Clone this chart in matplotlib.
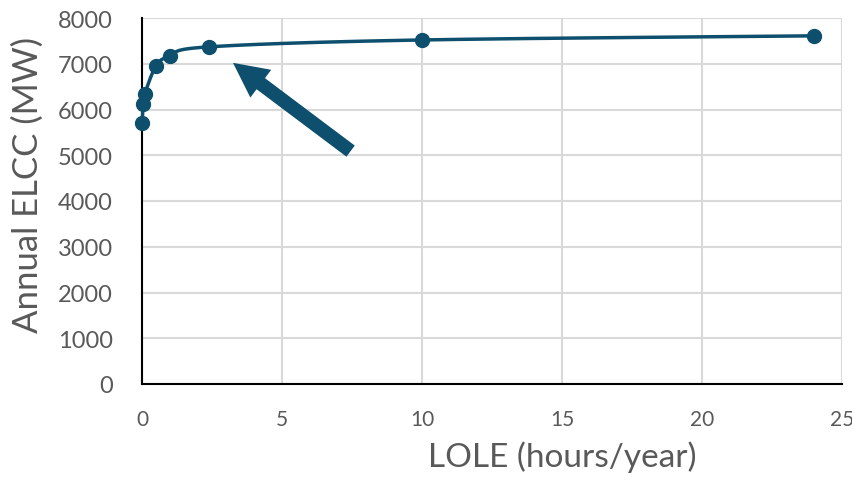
import numpy as np
import matplotlib
matplotlib.use("Agg")
import matplotlib.pyplot as plt

# values
lole = [0.0, 0.05, 0.1, 0.5, 1.0, 2.4, 10.0, 24.0]
elcc = [5700, 6130, 6340, 6950, 7170, 7370, 7520, 7610]

x_ticks = [0, 5, 10, 15, 20, 25]
y_ticks = [0, 1000, 2000, 3000, 4000, 5000, 6000, 7000, 8000]

line_color = "#0E4F6E"
text_color = "#595959"
grid_color = "#D9D9D9"


def smooth(xs, ys, n=30):
    # catmull-rom style curve, like a spreadsheet "smoothed line"
    xs = np.asarray(xs, float)
    ys = np.asarray(ys, float)
    px = np.concatenate([[xs[0]], xs, [xs[-1]]])
    py = np.concatenate([[ys[0]], ys, [ys[-1]]])
    out_x, out_y = [], []
    for i in range(1, len(px) - 2):
        p0, p1, p2, p3 = (np.array([px[j], py[j]]) for j in (i - 1, i, i + 1, i + 2))
        c1 = p1 + (p2 - p0) / 6
        c2 = p2 - (p3 - p1) / 6
        t = np.linspace(0, 1, n)[:, None]
        pts = ((1 - t) ** 3) * p1 + 3 * ((1 - t) ** 2) * t * c1 + 3 * (1 - t) * t ** 2 * c2 + t ** 3 * p2
        out_x.extend(pts[:, 0])
        out_y.extend(pts[:, 1])
    return out_x, out_y


plt.rcParams["font.family"] = ["Lato", "DejaVu Sans"]

fig = plt.figure(figsize=(8.52, 4.81), dpi=100)
ax = fig.add_axes([142 / 852, 1 - 385 / 481, (842 - 142) / 852, (385 - 19) / 481])

sx, sy = smooth(lole, elcc)
ax.plot(sx, sy, color=line_color, lw=2.5, zorder=3, clip_on=False)
ax.plot(lole, elcc, "o", color=line_color, ms=10, zorder=4, clip_on=False)

ax.annotate("", xy=(3.25, 7020), xytext=(7.45, 5090),
            arrowprops=dict(arrowstyle="simple,head_width=2.5,head_length=2.5,tail_width=1.0",
                            color=line_color, lw=0, shrinkA=0, shrinkB=0))

ax.set_xlim(0, 25)
ax.set_ylim(0, 8000)
ax.set_xticks(x_ticks)
ax.set_yticks(y_ticks)
ax.grid(True, color=grid_color, lw=1.5)
ax.set_axisbelow(True)
for s in ("top", "right"):
    ax.spines[s].set_visible(False)
for s in ("left", "bottom"):
    ax.spines[s].set_color("black")
    ax.spines[s].set_linewidth(1.5)
ax.tick_params(length=0, labelsize=15, colors=text_color)
ax.tick_params(axis="x", pad=18)
ax.tick_params(axis="y", pad=21, labelsize=17)
ax.set_xlabel("LOLE (hours/year)", fontsize=24, color=text_color)
ax.set_ylabel("Annual ELCC (MW)", fontsize=25, color=text_color)
ax.xaxis.set_label_coords(0.6, -0.155)
ax.yaxis.set_label_coords(-0.14, 0.546)

fig.savefig("out.png", dpi=100)
